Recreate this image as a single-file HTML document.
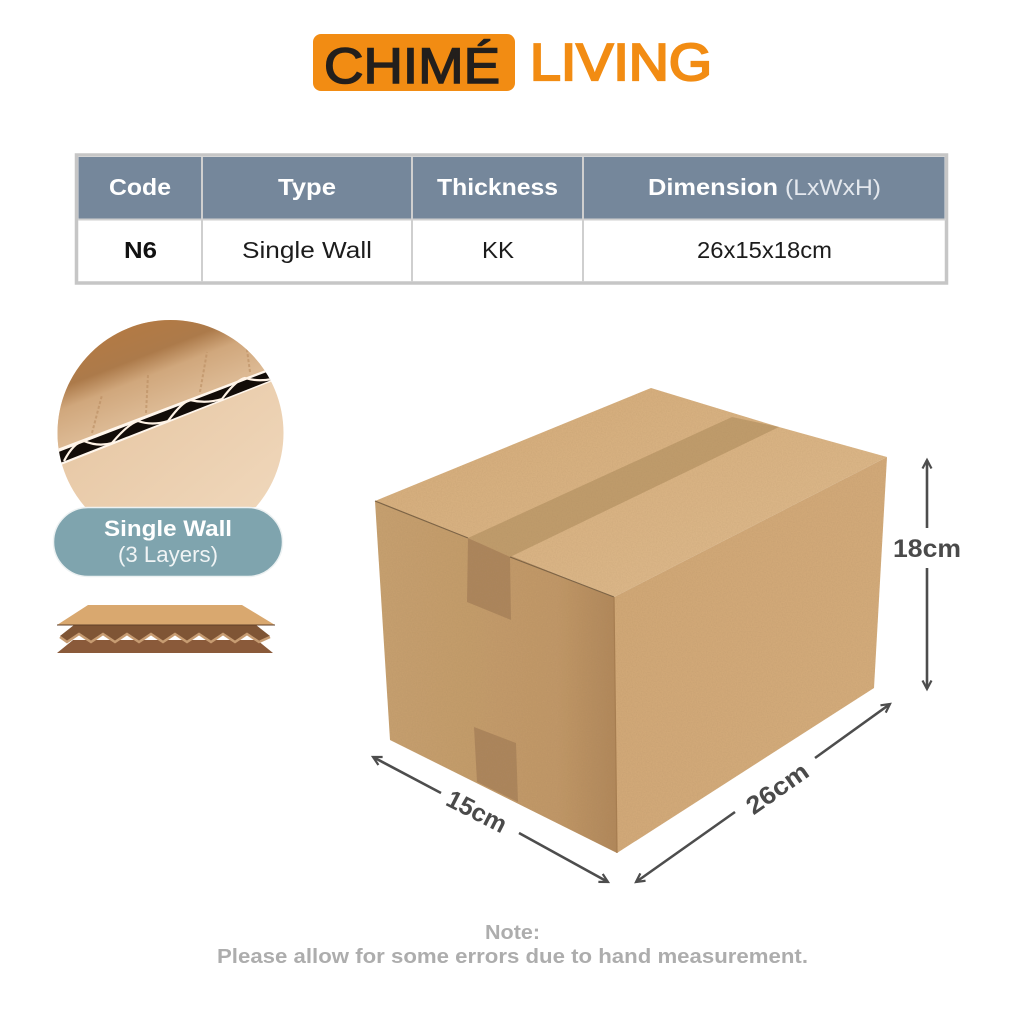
<!DOCTYPE html>
<html><head><meta charset="utf-8"><style>html,body{margin:0;padding:0;background:#fff}svg{display:block}text{font-family:"Liberation Sans",sans-serif}</style></head>
<body>
<svg width="1024" height="1024" viewBox="0 0 1024 1024" xmlns="http://www.w3.org/2000/svg">
<defs>
<clipPath id="circ"><rect x="0" y="0" width="300" height="507"/></clipPath>
<clipPath id="c2"><circle cx="170.500" cy="433" r="113"/></clipPath>
<linearGradient id="brown" gradientUnits="userSpaceOnUse" x1="150" y1="322" x2="180" y2="400"><stop offset="0" stop-color="#b27a45"/><stop offset="0.350" stop-color="#ac7a4a"/><stop offset="0.600" stop-color="#d0a77c"/><stop offset="1" stop-color="#dcb993"/></linearGradient>
<linearGradient id="light" x1="0" y1="0" x2="1" y2="1"><stop offset="0" stop-color="#e3c09a"/><stop offset="1" stop-color="#f0d8bc"/></linearGradient>
<linearGradient id="top" x1="0" y1="0" x2="1" y2="1"><stop offset="0" stop-color="#d3aa78"/><stop offset="1" stop-color="#debb8e"/></linearGradient>
<linearGradient id="front" x1="0" y1="0" x2="1" y2="0"><stop offset="0" stop-color="#c6a06f"/><stop offset="0.750" stop-color="#c09767"/><stop offset="1" stop-color="#b0875a"/></linearGradient>
<linearGradient id="right" x1="0" y1="0" x2="1" y2="1"><stop offset="0" stop-color="#cfa675"/><stop offset="1" stop-color="#d4ac7c"/></linearGradient>
<marker id="ah" viewBox="0 0 12 12" refX="10.500" refY="6" markerWidth="12" markerHeight="12" markerUnits="userSpaceOnUse" orient="auto-start-reverse" overflow="visible" style="overflow:visible"><path d="M2 1.500L10.500 6L2 10.500" fill="none" stroke="#4d4d4d" stroke-width="2.200"/></marker>
<filter id="grain" x="0" y="0" width="100%" height="100%"><feTurbulence type="fractalNoise" baseFrequency="0.800" numOctaves="2" seed="3"/><feColorMatrix values="0 0 0 0 0.350  0 0 0 0 0.220  0 0 0 0 0.100  0.300 0 0 0 -0.090"/><feComposite in2="SourceAlpha" operator="in"/><feMerge><feMergeNode in="SourceGraphic"/><feMergeNode/></feMerge></filter>
</defs>
<rect width="1024" height="1024" fill="#fff"/>

<!-- logo -->
<rect x="313" y="34" width="202" height="57" rx="8" fill="#f28c13"/>
<text x="324" y="83" font-size="50" fill="#231f1c" stroke="#231f1c" stroke-width="1.500" textLength="176" lengthAdjust="spacingAndGlyphs">CHIMÉ</text>
<text x="530" y="80" font-size="52" fill="#f28c13" stroke="#f28c13" stroke-width="2.200" textLength="182" lengthAdjust="spacingAndGlyphs">LIVING</text>

<!-- table -->
<rect x="76.500" y="155" width="870" height="128" fill="#fff" stroke="#c6c6c6" stroke-width="3.500"/>
<rect x="78.500" y="157" width="866" height="62" fill="#75879b"/>
<g stroke="#cfcfcf" stroke-width="2"><path d="M202 157V282M412 157V282M583 157V282M78 219.500H946" fill="none"/></g>
<g font-size="23" font-weight="bold" fill="#fff">
<text x="109" y="195" textLength="62" lengthAdjust="spacingAndGlyphs">Code</text>
<text x="278" y="195" textLength="58" lengthAdjust="spacingAndGlyphs">Type</text>
<text x="437" y="195" textLength="121" lengthAdjust="spacingAndGlyphs">Thickness</text>
<text x="648" y="195" textLength="130" lengthAdjust="spacingAndGlyphs">Dimension</text>
</g>
<text x="785" y="195" font-size="22" fill="#e4e8ee" textLength="96" lengthAdjust="spacingAndGlyphs">(LxWxH)</text>
<text x="124" y="258" font-size="23" font-weight="bold" fill="#111" textLength="33" lengthAdjust="spacingAndGlyphs">N6</text>
<g font-size="23" fill="#1c1c1c">
<text x="242" y="258" textLength="130" lengthAdjust="spacingAndGlyphs">Single Wall</text>
<text x="482" y="258" textLength="32" lengthAdjust="spacingAndGlyphs">KK</text>
<text x="697" y="258" textLength="135" lengthAdjust="spacingAndGlyphs">26x15x18cm</text>
</g>

<!-- circle -->
<g clip-path="url(#circ)"><g clip-path="url(#c2)">
<rect x="50" y="315" width="240" height="200" fill="url(#light)"/>
<path d="M50 456L280 366V315H50Z" fill="url(#brown)"/>
<path d="M92 433L102 395M146 413L148 375M200 392L207 352M250 372L245 335" stroke="#b98c60" stroke-width="2" stroke-dasharray="3 2" fill="none" opacity=".6"/>
<path d="M52 451L276 366L278 379L56 467Z" fill="#fff6ec"/>
<path d="M56 453L272 370L274 379L60 463Z" fill="#120c08"/>
<path d="M64 461Q74 442 84 441Q98 447 112 443Q128 424 138 421Q152 426 168 421Q182 402 190 400Q206 404 222 399Q236 380 245 378Q258 382 272 379" fill="none" stroke="#fff3e6" stroke-width="2.200"/>
</g></g>
<rect x="53.500" y="507.500" width="229" height="69" rx="34.500" fill="#7fa4ae" stroke="#ecf1f2" stroke-width="1.500"/>
<text x="104" y="536" font-size="22" font-weight="bold" fill="#fff" textLength="128" lengthAdjust="spacingAndGlyphs">Single Wall</text>
<text x="118" y="562" font-size="22" fill="#f0f4f5" textLength="100" lengthAdjust="spacingAndGlyphs">(3 Layers)</text>

<!-- layers -->
<path d="M57 653L73 640H257L273 653Z" fill="#8a5a3a"/>
<path d="M60 636L74 625H256L270 636L259 642L247 634L235 642L223 634L211 642L199 634L187 642L175 634L163 642L151 634L139 642L127 634L115 642L103 634L91 642L79 634L67 642Z" fill="#7f5535"/>
<path d="M60 637L67 642L79 634L91 642L103 634L115 642L127 634L139 642L151 634L163 642L175 634L187 642L199 634L211 642L223 634L235 642L247 634L259 642L270 637" fill="none" stroke="#c79c72" stroke-width="2.500"/>
<path d="M57 625L88 605H242L275 625Z" fill="#d9a86f"/>
<path d="M57 625H275" stroke="#5f3f28" stroke-width="1"/>

<!-- box -->
<g filter="url(#grain)">
<path d="M375 501L651 388L779 427L887 457L614 597Z" fill="url(#top)"/>
<path d="M375 501L614 597L617 853L390 740Z" fill="url(#front)"/>
<path d="M614 597L887 457L874 688L617 853Z" fill="url(#right)"/>
<path d="M732 417L779 427L510 557L468 538Z" fill="#bf9b6c"/>
<path d="M468 538L510 557L511 620L467 602Z" fill="#ac855c"/>
<path d="M474 727L516 743L518 802L477 782Z" fill="#ac855c"/>
</g>
<path d="M375 501L468 538M510 557L614 597" stroke="#7d6446" stroke-width="1.200" fill="none"/>
<path d="M614 597L617 853" stroke="#a67d50" stroke-width="1.200" fill="none"/>

<!-- dimensions -->
<g stroke="#4d4d4d" stroke-width="2.600" fill="none">
<path d="M927 528V460" marker-end="url(#ah)"/>
<path d="M927 568V689" marker-end="url(#ah)"/>
<path d="M815 758L890 704" marker-end="url(#ah)"/>
<path d="M735 812L636 882" marker-end="url(#ah)"/>
<path d="M441 793L373 757" marker-end="url(#ah)"/>
<path d="M519 833L608 882" marker-end="url(#ah)"/>
</g>
<g font-size="25" font-weight="bold" fill="#4a4a4a">
<text x="893" y="557" textLength="68" lengthAdjust="spacingAndGlyphs">18cm</text>
<text transform="translate(477 811) rotate(27)" x="-32" y="9" textLength="64" lengthAdjust="spacingAndGlyphs">15cm</text>
<text transform="translate(777 788) rotate(-35)" x="-35" y="9" textLength="70" lengthAdjust="spacingAndGlyphs">26cm</text>
</g>

<!-- note -->
<g font-size="20" font-weight="bold" fill="#adadad">
<text x="485" y="939" textLength="55" lengthAdjust="spacingAndGlyphs">Note:</text>
<text x="217" y="963" textLength="591" lengthAdjust="spacingAndGlyphs">Please allow for some errors due to hand measurement.</text>
</g>
</svg>
</body></html>
